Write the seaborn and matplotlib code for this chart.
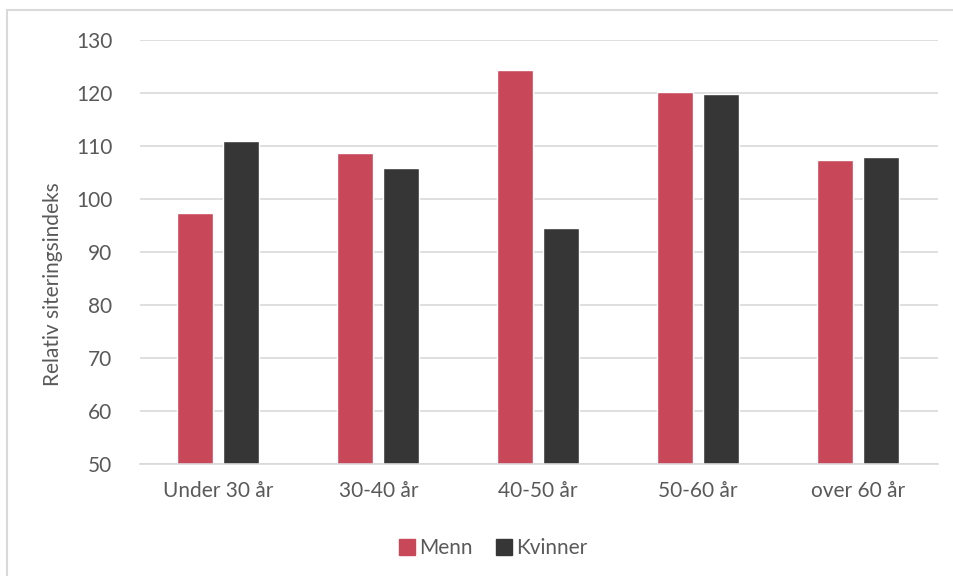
import pandas as pd
import matplotlib
matplotlib.use("Agg")
import matplotlib.pyplot as plt
from matplotlib.lines import Line2D
import seaborn as sns

# values
age_groups = ["Under 30 år", "30-40 år", "40-50 år", "50-60 år", "over 60 år"]
menn = [97.4, 108.7, 124.3, 120.2, 107.4]
kvinner = [110.9, 105.8, 94.6, 119.8, 108.0]
yticks = [50, 60, 70, 80, 90, 100, 110, 120, 130]

df = pd.DataFrame({
    "Alder": age_groups * 2,
    "Indeks": menn + kvinner,
    "Kjonn": ["Menn"] * 5 + ["Kvinner"] * 5,
})

sns.set_theme(style="white")
plt.rcParams["font.family"] = ["Lato", "DejaVu Sans"]
txt = "#595959"

fig = plt.figure(figsize=(9.54, 5.76), dpi=100)
ax = fig.add_axes([140 / 954, 112 / 576, 798 / 954, 424 / 576])

sns.barplot(data=df, x="Alder", y="Indeks", hue="Kjonn", order=age_groups,
            palette={"Menn": "#C8485A", "Kvinner": "#363636"},
            width=0.575, gap=0.217, ax=ax, legend=False, saturation=1)

# bars start from the axis floor, not from zero
ax.set_ylim(50, 130)
ax.set_xlim(-0.49, 4.5)
ax.set_yticks(yticks)
ax.grid(axis="y", color="#D9D9D9", linewidth=1.2)
ax.set_axisbelow(True)
for s in ["top", "right", "left"]:
    ax.spines[s].set_visible(False)
ax.spines["bottom"].set_color("#D9D9D9")
ax.spines["bottom"].set_linewidth(1.2)
ax.tick_params(axis="both", length=0, labelsize=15, labelcolor=txt)
ax.tick_params(axis="y", pad=20)
ax.tick_params(axis="x", pad=12)
ax.set_xlabel("")
ax.set_ylabel("Relativ siteringsindeks", fontsize=15, color=txt)
ax.yaxis.set_label_coords(-0.097, 0.425)

handles = [Line2D([], [], marker="s", linestyle="", markersize=12, color=c)
           for c in ["#C8485A", "#363636"]]
fig.legend(handles, ["Menn", "Kvinner"], loc="center", bbox_to_anchor=(492 / 954, 1 - 548 / 576),
           ncol=2, frameon=False, fontsize=15, labelcolor=txt, handletextpad=0.1,
           columnspacing=1.0, handlelength=1.0)

# outer chart frame (only left and top edge show)
fig.add_artist(Line2D([7 / 954, 7 / 954], [0, 1 - 10 / 576], color="#D9D9D9", linewidth=1.5,
                      transform=fig.transFigure))
fig.add_artist(Line2D([7 / 954, 1], [1 - 10 / 576, 1 - 10 / 576], color="#D9D9D9", linewidth=1.5,
                      transform=fig.transFigure))

fig.savefig("out.png", dpi=100)
